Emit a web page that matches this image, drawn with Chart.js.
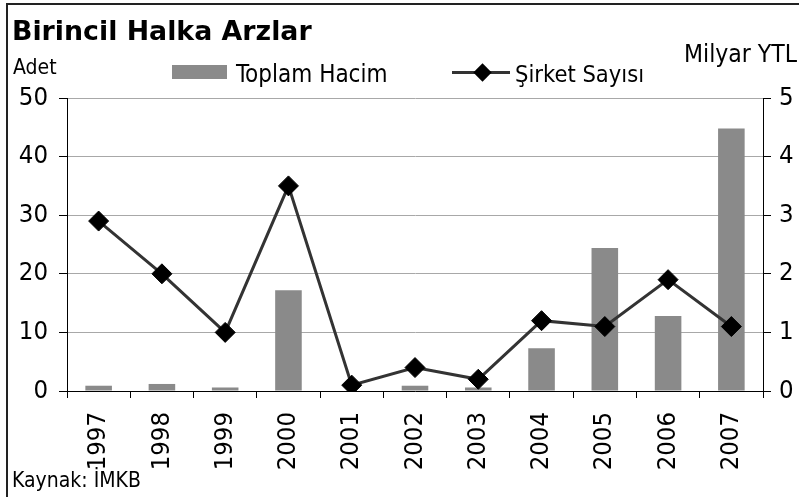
<!DOCTYPE html>
<html>
<head>
<meta charset="utf-8">
<script src="https://cdn.jsdelivr.net/npm/chart.js@4.4.1/dist/chart.umd.min.js"></script>
<style>
  body { margin: 0; background: #fff; }
  #wrap { position: relative; width: 799px; height: 497px; overflow: hidden; font-family: "DejaVu Sans Condensed", "DejaVu Sans", sans-serif; color: #000; }
  #frame { position: absolute; left: 6px; top: 3px; width: 900px; height: 600px; border-top: 2px solid #222; border-left: 2px solid #222; }
  .txt { position: absolute; white-space: nowrap; line-height: normal; }
  #barKey { position: absolute; left: 172px; top: 65px; width: 55px; height: 14px; background: #8a8a8a; }
  #lineKey { position: absolute; left: 452px; top: 71px; width: 58px; height: 3px; background: #333; }
  #diamond { position: absolute; left: 476px; top: 66px; width: 13px; height: 13px; background: #000; transform: rotate(45deg); }
</style>
</head>
<body>
<div id="wrap">
  <canvas id="chart" width="799" height="497"></canvas>
  <div id="frame"></div>
  <div class="txt" style="left:12px; top:15px; font-size:26.8px; font-weight:bold; font-family:'DejaVu Sans', sans-serif;">Birincil Halka Arzlar</div>
  <div class="txt" style="left:13px; top:55px; font-size:21px;">Adet</div>
  <div id="barKey"></div>
  <div class="txt" style="left:236px; top:60px; font-size:24px;">Toplam Hacim</div>
  <div id="lineKey"></div>
  <div id="diamond"></div>
  <div class="txt" style="left:515px; top:60px; font-size:23.5px;">Şirket Sayısı</div>
  <div class="txt" style="left:684px; top:39px; font-size:24.5px;">Milyar YTL</div>
  <div class="txt" style="left:12px; top:468px; font-size:21px;">Kaynak: İMKB</div>
</div>
<script>
// data
const years = ['1997', '1998', '1999', '2000', '2001', '2002', '2003', '2004', '2005', '2006', '2007'];
const toplamHacim = [0.09, 0.12, 0.06, 1.72, 0, 0.09, 0.06, 0.73, 2.44, 1.28, 4.48];   // Milyar YTL
const sirketSayisi = [29, 20, 10, 35, 1, 4, 2, 12, 11, 19, 11];                       // Adet
const adetTicks = [0, 10, 20, 30, 40, 50];
const milyarTicks = [0, 1, 2, 3, 4, 5];

const tickFont = { family: "'DejaVu Sans Condensed', 'DejaVu Sans', sans-serif", size: 25.5 };

const ctx = document.getElementById('chart').getContext('2d');
const chart = new Chart(ctx, {
  type: 'bar',
  data: {
    labels: years,
    datasets: [
      {
        type: 'line',
        label: 'Şirket Sayısı',
        data: sirketSayisi,
        yAxisID: 'y',
        borderColor: '#333',
        borderWidth: 3,
        tension: 0,
        pointStyle: 'rectRot',
        pointRadius: 10,
        pointBorderWidth: 1,
        pointBackgroundColor: '#000',
        pointBorderColor: '#000',
        order: 0
      },
      {
        label: 'Toplam Hacim',
        data: toplamHacim,
        yAxisID: 'y1',
        backgroundColor: '#8a8a8a',
        categoryPercentage: 1,
        barPercentage: 0.42,
        order: 1
      }
    ]
  },
  options: {
    responsive: false,
    animation: false,
    layout: { padding: { top: 98, left: 0, right: 0, bottom: 0 } },
    plugins: { legend: { display: false }, tooltip: { enabled: false } },
    scales: {
      x: {
        offset: true,
        grid: { offset: true, drawOnChartArea: false, tickLength: 7, color: '#000' },
        border: { color: '#000', width: 1 },
        ticks: { font: tickFont, color: '#000', minRotation: 90, maxRotation: 90, padding: 14 },
        afterFit: s => { s.height = 106; }
      },
      y: {
        position: 'left',
        min: 0, max: 50,
        afterBuildTicks: s => { s.ticks = adetTicks.map(v => ({ value: v })); },
        grid: { color: '#a8a8a8', tickColor: '#000', tickLength: 8 },
        border: { color: '#000', width: 1 },
        ticks: { font: tickFont, color: '#000', padding: 11 },
        afterFit: s => { s.width = 67; }
      },
      y1: {
        position: 'right',
        min: 0, max: 5,
        afterBuildTicks: s => { s.ticks = milyarTicks.map(v => ({ value: v })); },
        grid: { drawOnChartArea: false, tickColor: '#000', tickLength: 8 },
        border: { color: '#000', width: 1 },
        ticks: { font: tickFont, color: '#000', padding: 8 },
        afterFit: s => { s.width = 36; }
      }
    }
  }
});
</script>
</body>
</html>
